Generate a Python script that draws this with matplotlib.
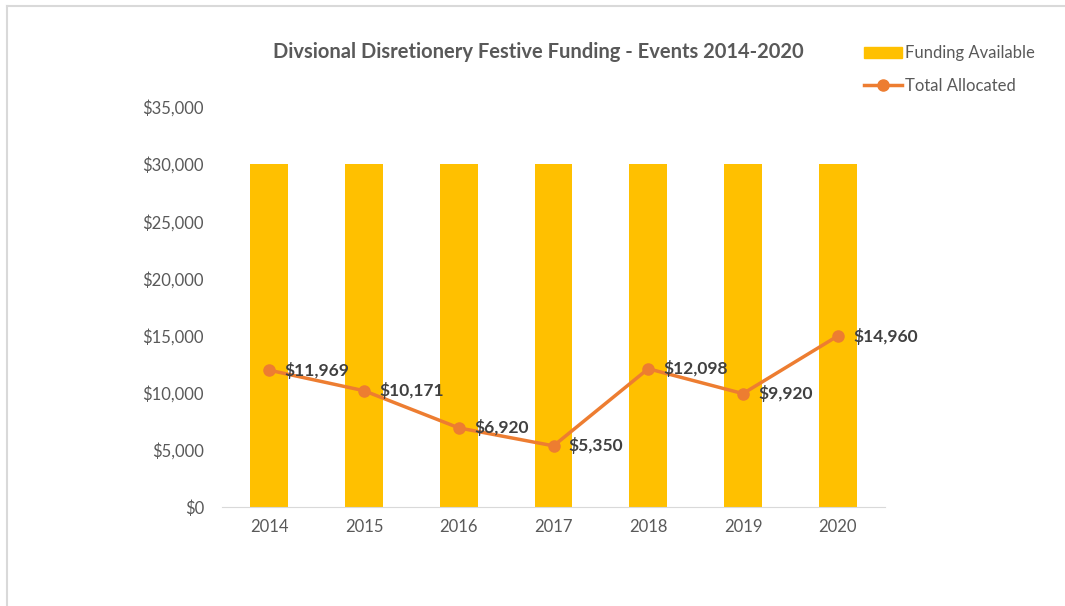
import matplotlib.pyplot as plt
from matplotlib.lines import Line2D
from matplotlib.patches import Rectangle

years = ['2014', '2015', '2016', '2017', '2018', '2019', '2020']
funding_available = [30000, 30000, 30000, 30000, 30000, 30000, 30000]
total_allocated = [11969, 10171, 6920, 5350, 12098, 9920, 14960]

plt.rcParams['font.family'] = ['Lato', 'DejaVu Sans']

fig = plt.figure(figsize=(10.65, 6.06), dpi=100)
ax = fig.add_axes([0.2085, 0.1634, 0.6225, 0.66])

x = range(len(years))
bars = ax.bar(x, funding_available, width=0.4, color='#FFC000', label='Funding Available', zorder=2)
line, = ax.plot(x, total_allocated, color='#ED7D31', lw=2.5, marker='o', ms=8,
                label='Total Allocated', zorder=3)

for xi, v in zip(x, total_allocated):
    ax.annotate(f'${v:,}', (xi, v), xytext=(11, 0), textcoords='offset points',
                ha='left', va='center', fontsize=12.5, fontweight='bold', color='#404040', zorder=4)

ax.set_xlim(-0.5, len(years) - 0.5)
ax.set_ylim(0, 35000)
ax.set_yticks(range(0, 35001, 5000))
ax.set_yticklabels([f'${t:,}' for t in range(0, 35001, 5000)])
ax.set_xticks(list(x))
ax.set_xticklabels(years)
ax.tick_params(axis='both', length=0, labelsize=12, labelcolor='#595959')
ax.tick_params(axis='y', pad=13)
ax.tick_params(axis='x', pad=9)
for s in ['top', 'right', 'left']:
    ax.spines[s].set_visible(False)
ax.spines['bottom'].set_color('#D9D9D9')

fig.text(0.505, 0.914, 'Divsional Disretionery Festive Funding - Events 2014-2020',
         ha='center', va='center', fontsize=14.5, fontweight='bold', color='#595959')

handles = [Rectangle((0, 0), 1, 1, color='#FFC000'),
           Line2D([0], [0], color='#ED7D31', lw=2.5, marker='o', ms=8)]
fig.legend(handles, ['Funding Available', 'Total Allocated'], loc='upper left',
           bbox_to_anchor=(0.797, 0.95), frameon=False, fontsize=12, labelcolor='#595959',
           handlelength=2.3, handletextpad=0.2, labelspacing=1.0)

# light frame on left and top
fig.add_artist(Line2D([0.007, 0.007], [0, 0.99], color='#D9D9D9', lw=1.5, transform=fig.transFigure))
fig.add_artist(Line2D([0.007, 1.0], [0.99, 0.99], color='#D9D9D9', lw=1.5, transform=fig.transFigure))

fig.savefig('out.png', dpi=100)
